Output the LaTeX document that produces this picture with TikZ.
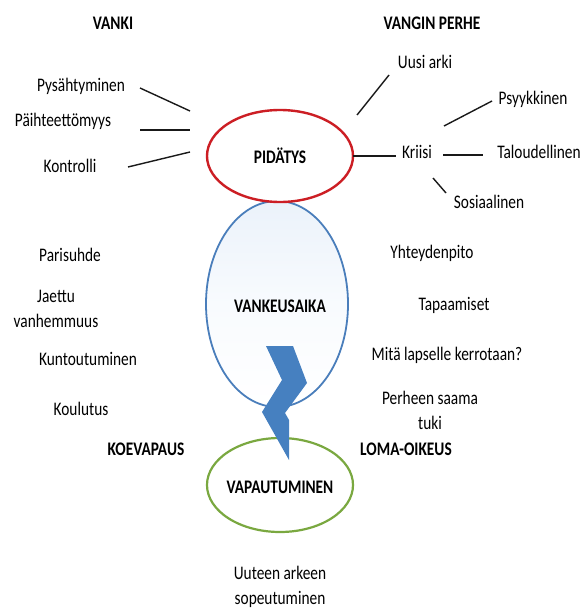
\documentclass[tikz,border=0pt]{standalone}
\usepackage{fontspec}
\setmainfont{Carlito}[FakeStretch=0.8]
\begin{document}
\begin{tikzpicture}[x=1pt,y=-1pt,
  lbl/.style={font=\fontsize{19.2}{25}\selectfont, inner sep=0pt, text=black},
  bl/.style={lbl, anchor=base},
  hd/.style={bl, font=\fontsize{19.2}{25}\selectfont\bfseries},
  ml/.style={lbl, align=center},
  conn/.style={draw=black!90, line width=1.4pt},
  ringred/.style={draw={rgb,255:red,204;green,30;blue,36}, line width=2.4pt},
  ringblue/.style={draw={rgb,255:red,74;green,126;blue,187}, line width=1.8pt},
  ringgreen/.style={draw={rgb,255:red,122;green,168;blue,64}, line width=2.2pt},
  bolt/.style={fill={rgb,255:red,70;green,128;blue,192}, draw=none}
]
\useasboundingbox (0,0) rectangle (583,610);
\fill[white] (0,0) rectangle (583,610);

% ellipses
\path[top color={rgb,255:red,235;green,242;blue,250}, bottom color=white, middle color={rgb,255:red,248;green,251;blue,254}]
  (277,304) ellipse [x radius=71, y radius=103];
\draw[ringblue] (277,304) ellipse [x radius=71, y radius=103];
\node[inner sep=0pt, minimum width=142pt, minimum height=206pt] (vank) at (277,304) {};
\draw[ringred, fill=white] (280,156) ellipse [x radius=73, y radius=46];
\node[inner sep=0pt, minimum width=146pt, minimum height=92pt] (pid) at (280,156) {};
\draw[ringgreen] (280,485) ellipse [x radius=73, y radius=47];
\node[inner sep=0pt, minimum width=146pt, minimum height=94pt] (vap) at (280,485) {};

% centre labels
\node[hd] (tpid) at (280,163) {PIDÄTYS};
\node[hd] (tvank) at (280,312) {VANKEUSAIKA};
\node[hd] (tvap) at (280,493) {VAPAUTUMINEN};

% headings
\node[hd] (vanki) at (113,30) {VANKI};
\node[hd] (perhe) at (432,30) {VANGIN PERHE};

% left top
\node[bl] (pys) at (81,91) {Pysähtyminen};
\node[bl] (paih) at (63,126) {Päihteettömyys};
\node[bl] (kon) at (70,172) {Kontrolli};

% right top
\node[bl] (uusi) at (425,68) {Uusi arki};
\node[bl] (kriisi) at (417,158) {Kriisi};
\node[bl] (psyk) at (533,104) {Psyykkinen};
\node[bl] (talo) at (539,158) {Taloudellinen};
\node[bl] (sos) at (489,208) {Sosiaalinen};

% connector end points
\coordinate (c1a) at (140,88);  \coordinate (c1b) at (190,111);
\coordinate (c2a) at (140,130); \coordinate (c2b) at (190,130);
\coordinate (c3a) at (128,167); \coordinate (c3b) at (190,152);
\coordinate (c4a) at (357,115); \coordinate (c4b) at (389,75);
\coordinate (c5a) at (444,126); \coordinate (c5b) at (492,101);
\coordinate (c6a) at (443,155); \coordinate (c6b) at (483,155);
\coordinate (c7a) at (433,178); \coordinate (c7b) at (446,193);
\coordinate (c8b) at (396,156);

\draw[conn] (c1a) -- (c1b);
\draw[conn] (c2a) -- (c2b);
\draw[conn] (c3a) -- (c3b);
\draw[conn] (c4a) -- (c4b);
\draw[conn] (pid.east) -- (c8b);
\draw[conn] (c5a) -- (c5b);
\draw[conn] (c6a) -- (c6b);
\draw[conn] (c7a) -- (c7b);

% left middle
\node[bl] (pari) at (70,261) {Parisuhde};
\node[ml] (jaettu) at (56,309) {Jaettu\\vanhemmuus};
\node[bl] (kunto) at (88,365) {Kuntoutuminen};
\node[bl] (koul) at (81,415) {Koulutus};
\node[hd] (koe) at (146,455) {KOEVAPAUS};

% right middle
\node[bl] (yht) at (432,258) {Yhteydenpito};
\node[bl] (tap) at (454,310) {Tapaamiset};
\node[bl] (mita) at (447,360) {Mitä lapselle kerrotaan?};
\node[ml] (perheen) at (430,410) {Perheen saama\\tuki};
\node[hd] (loma) at (406,455) {LOMA-OIKEUS};

% bottom
\node[ml] (uuteen) at (280,587) {Uuteen arkeen\\sopeutuminen};

% bolt
\fill[bolt] (266,346) -- (293,346) -- (307,383) -- (285,413) -- (289,420) -- (289,460)
  -- (262,412) -- (282,380) -- cycle;
\end{tikzpicture}
\end{document}
